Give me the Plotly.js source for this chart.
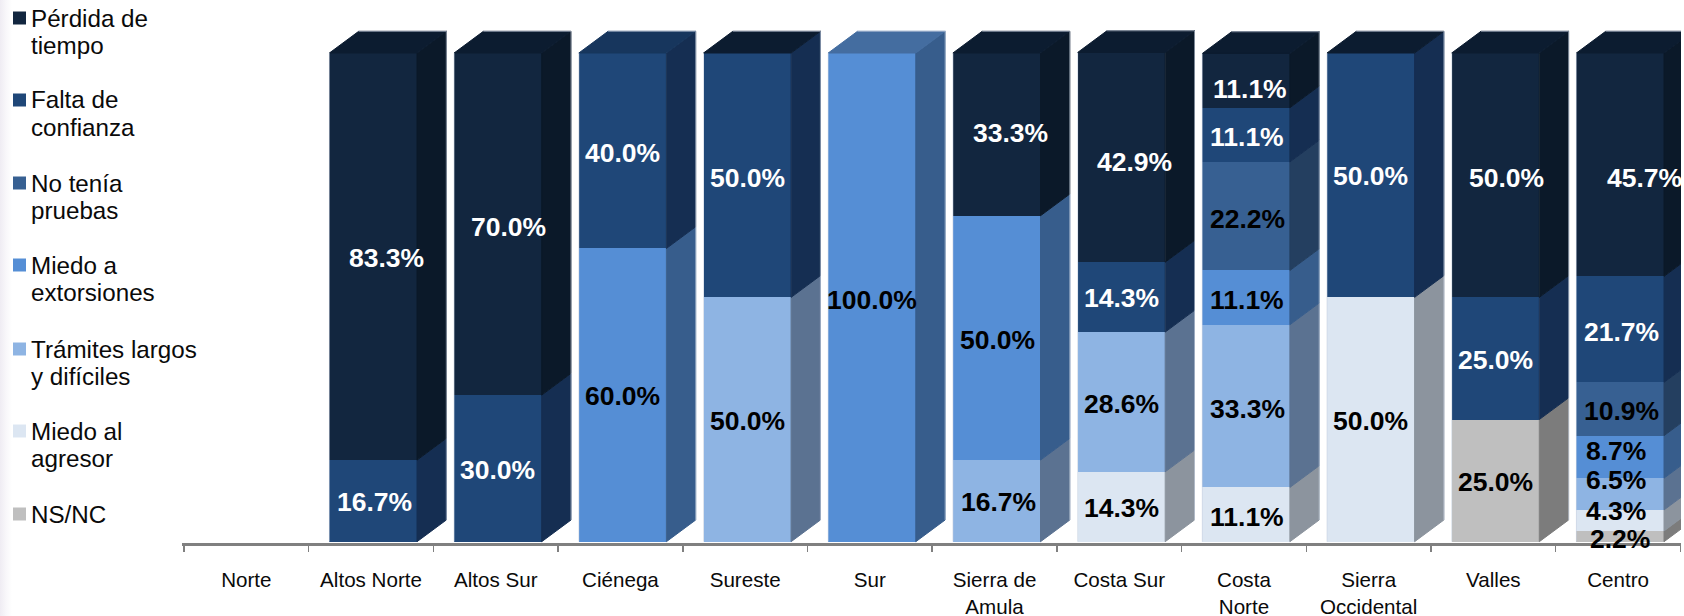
<!DOCTYPE html>
<html>
<head>
<meta charset="utf-8">
<script src="https://cdn.plot.ly/plotly-3.0.1.min.js"></script>
<style>html,body{margin:0;padding:0;overflow:hidden}body{background:linear-gradient(to right,#efecf3 0,#f8f7fa 6px,#fff 12px)}#chart{width:1684px;height:616px}</style>
</head>
<body>
<div id="chart"></div>
<script>
// ---------- data ----------
const categories = ["Norte","Altos Norte","Altos Sur","Ciénega","Sureste","Sur","Sierra de<br>Amula","Costa Sur","Costa<br>Norte","Sierra<br>Occidental","Valles","Centro"];
const perdidaTiempo = [null,83.3,70.0,null,null,null,33.3,42.9,11.1,null,50.0,45.7];
const faltaConfianza = [null,16.7,30.0,40.0,50.0,null,null,14.3,11.1,50.0,25.0,21.7];
const noTeniaPruebas = [null,null,null,null,null,null,null,null,22.2,null,null,10.9];
const miedoExtorsiones = [null,null,null,60.0,null,100.0,50.0,null,11.1,null,null,8.7];
const tramitesLargos = [null,null,null,null,50.0,null,16.7,28.6,33.3,null,null,6.5];
const miedoAgresor = [null,null,null,null,null,null,null,14.3,11.1,50.0,null,4.3];
const nsnc = [null,null,null,null,null,null,null,null,null,null,25.0,2.2];
const legendLines = [["Pérdida de","tiempo"],["Falta de","confianza"],["No tenía","pruebas"],["Miedo a","extorsiones"],["Trámites largos","y difíciles"],["Miedo al","agresor"],["NS/NC"]];

// ---------- styles ----------
const series = [perdidaTiempo,faltaConfianza,noTeniaPruebas,miedoExtorsiones,tramitesLargos,miedoAgresor,nsnc];
const frontColors = ["#12263f","#1f4778","#376092","#558ed5","#8eb4e3","#dce6f2","#bfbfbf"];
const sideColors  = ["#0b1929","#152e52","#243f60","#375d8c","#5b7291","#8c949e","#7c7c7c"];
const labelColors = ["#ffffff","#ffffff","#000000","#000000","#000000","#000000","#000000"];
const topFaceColors = {1:"#0c1c30",2:"#0c1c30",3:"#17365d",4:"#0c1c30",5:"#446da0",6:"#0c1c30",7:"#0c1c30",8:"#0c1c30",9:"#0c1c30",10:"#0c1c30",11:"#0c1c30"};
// hand-placed label nudges in px: "category:series": [dx, dy]
const labelNudges = {"1:0":[13.6,0],"2:0":[11,2],"1:1":[1,0],"2:1":[0,1],"5:3":[0,2],"6:0":[14.2,-2],"6:3":[1,1],"6:4":[1.5,0],"7:0":[13,4],"7:4":[0,1],"8:0":[3.4,7],"8:1":[1,1],"8:2":[1,2],"8:3":[1,1],"8:4":[1,2],"8:5":[1,1],"10:0":[11,2],"10:1":[0,1],"11:0":[24.5,12],"11:3":[-4.6,-6.7],"11:4":[-4.6,-15],"11:5":[-4.6,-10],"11:6":[0,2],"11:1":[1,2],"11:2":[1,1],"3:1":[0,1],"4:1":[0,2]};

const PXX = 124.7, PXY = 4.887;
const barStart = -0.334, barWidth = 0.7025;
const depthX = 29.3/PXX, depthY = 21.7/PXY;
const xs = categories.map((_,i)=>i);

const traces = [];
const annotations = [];
const stack = categories.map(()=>0);
const faceTrace=(x,y,c)=>({type:"scatter",mode:"lines",x,y,fill:"toself",fillcolor:c,line:{color:c,width:1},showlegend:false,hoverinfo:"skip",cliponaxis:false});
for (let s = series.length-1; s >= 0; s--) {
  traces.push({type:"bar",x:xs,y:series[s],name:legendLines[s].join(" "),width:barWidth,offset:barStart,
    marker:{color:frontColors[s],line:{width:0}},showlegend:false,hoverinfo:"y+name"});
  const sx=[], sy=[];
  series[s].forEach((v,i)=>{
    if (v===null) return;
    const y0=stack[i], y1=y0+v, xr=i+barStart+barWidth;
    sx.push(xr,xr+depthX,xr+depthX,xr,xr,null);
    sy.push(y0,y0+depthY,y1+depthY,y1,y0,null);
    const n=labelNudges[i+":"+s]||[0,0];
    annotations.push({x:i,y:(y0+y1)/2,xref:"x",yref:"y",text:v.toFixed(1)+"%",showarrow:false,
      xshift:2.2+n[0],yshift:-(n[1]+1),font:{family:"Liberation Sans, Arial, sans-serif",size:26.5,color:labelColors[s],weight:700}});
    stack[i]=y1;
  });
  traces.push(faceTrace(sx,sy,sideColors[s]));
}
const topByColor={}, edgeX=[], edgeY=[];
categories.forEach((_,i)=>{
  if (!stack[i]) return;
  const c=topFaceColors[i];
  (topByColor[c]=topByColor[c]||{x:[],y:[]});
  const xl=i+barStart, xr=xl+barWidth, h=stack[i];
  topByColor[c].x.push(xl,xl+depthX,xr+depthX,xr,xl,null);
  topByColor[c].y.push(h,h+depthY,h+depthY,h,h,null);
  // thin light silhouette edge: left, back-top, right
  edgeX.push(xl,xl,null,xl+depthX,xr+depthX,xr+depthX,null);
  edgeY.push(0,h,null,h+depthY,h+depthY,depthY,null);
});
Object.keys(topByColor).forEach(c=>traces.push(faceTrace(topByColor[c].x,topByColor[c].y,c)));
traces.push({type:"scatter",mode:"lines",x:edgeX,y:edgeY,line:{color:"rgba(200,210,225,0.6)",width:1},showlegend:false,hoverinfo:"skip",cliponaxis:false});

// ---------- custom legend ----------
const W=1684,H=616,L=182,R=3,B=73,plotW=W-L-R,plotH=H-B;
const px=(p)=>(p-L)/plotW, py=(p)=>1-p/plotH;
const shapes=[];
const rowCenters=[18,100,183,265,349,431,514];
legendLines.forEach((lines,s)=>{
  const c=rowCenters[s];
  shapes.push({type:"rect",xref:"paper",yref:"paper",x0:px(13),x1:px(26),y0:py(c-6.5),y1:py(c+6.5),fillcolor:frontColors[s],line:{width:0}});
  lines.forEach((t,k)=>annotations.push({xref:"paper",yref:"paper",x:px(29),y:py(c+k*27.3),xanchor:"left",yanchor:"middle",text:t,showarrow:false,
    font:{family:"Liberation Sans, Arial, sans-serif",size:24.2,color:"#0a0a0a"}}));
});

const layout={
  width:W,height:H,margin:{l:L,r:R,t:0,b:B,pad:0},paper_bgcolor:"rgba(0,0,0,0)",plot_bgcolor:"rgba(0,0,0,0)",
  barmode:"stack",showlegend:false,hovermode:"closest",
  xaxis:{type:"linear",range:[(L-184)/PXX-0.5,(W-R-184)/PXX-0.5],tickmode:"array",tickvals:xs,ticktext:categories,ticks:"",
    showgrid:false,zeroline:false,showline:true,linecolor:"#808080",linewidth:3,ticklabelstandoff:16,
    minor:{ticks:"outside",ticklen:6,tickwidth:1.5,tickcolor:"#808080",tickmode:"array",tickvals:categories.concat([""]).map((_,i)=>i-0.5),showgrid:false},
    tickfont:{family:"Liberation Sans, Arial, sans-serif",size:20.6,color:"#0a0a0a"},fixedrange:true},
  yaxis:{type:"linear",range:[-(plotH-541.7)/PXY,541.7/PXY],visible:false,fixedrange:true},
  shapes,annotations
};
Plotly.newPlot("chart",traces,layout,{displayModeBar:false,staticPlot:true});
</script>
</body>
</html>
